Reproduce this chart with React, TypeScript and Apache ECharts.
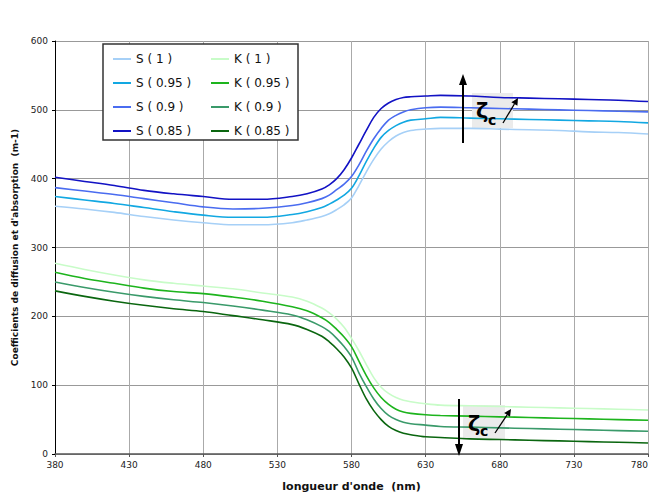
import React, { useEffect, useRef } from "react";
import * as echarts from "echarts";

const wavelengths = [380, 400, 420, 440, 460, 480, 500, 520, 540, 550, 560, 565, 570, 575, 580, 585, 590, 595, 600, 605, 610, 615, 620, 630, 640, 660, 680, 700, 720, 740, 760, 780];

const s100 = [360, 356, 351, 345, 340, 336, 333, 333, 336, 340, 345, 349, 355, 362, 372, 390, 410, 428, 443, 454, 462, 467, 470, 472, 473, 473, 472, 471, 470, 468, 467, 465];
const s095 = [374, 369, 364, 358, 352, 347, 344, 344, 348, 352, 358, 363, 369, 376, 386, 404, 425, 444, 460, 470, 477, 482, 485, 487, 489, 488, 487, 486, 485, 484, 483, 481];
const s090 = [387, 382, 377, 371, 365, 359, 356, 357, 361, 365, 371, 376, 384, 392, 403, 420, 440, 458, 473, 485, 492, 497, 500, 503, 504, 503, 502, 501, 500, 499, 498, 497];
const s085 = [402, 396, 390, 383, 378, 374, 370, 370, 374, 378, 385, 391, 400, 413, 430, 450, 470, 489, 502, 510, 515, 518, 519, 520, 521, 520, 518, 517, 516, 515, 514, 512];

const k100 = [277, 268, 260, 253, 248, 244, 240, 234, 228, 222, 212, 205, 196, 184, 168, 150, 130, 111, 97, 88, 82, 78, 76, 73, 71, 70, 69, 68, 67, 66, 65, 64];
const k095 = [264, 255, 248, 241, 236, 233, 228, 222, 214, 208, 198, 191, 181, 170, 156, 135, 114, 96, 82, 72, 65, 61, 59, 57, 56, 55, 54, 53, 52, 51, 50, 49];
const k090 = [250, 242, 235, 229, 224, 220, 215, 209, 202, 195, 185, 178, 168, 156, 141, 118, 98, 80, 66, 56, 50, 46, 44, 42, 40, 39, 38, 37, 36, 35, 34, 33];
const k085 = [237, 229, 222, 216, 211, 207, 201, 195, 188, 181, 171, 163, 153, 141, 125, 102, 80, 63, 50, 40, 34, 30, 28, 25, 24, 22, 21, 20, 19, 18, 17, 16];

const sNames = ["S ( 1 )", "S ( 0.95 )", "S ( 0.9 )", "S ( 0.85 )"];
const kNames = ["K ( 1 )", "K ( 0.95 )", "K ( 0.9 )", "K ( 0.85 )"];
const sData = [s100, s095, s090, s085];
const kData = [k100, k095, k090, k085];
const sColors = ["#a6d0f7", "#12a8e2", "#4a6cf0", "#1212c4"];
const kColors = ["#c8fcc8", "#1db41d", "#3a9a6a", "#0a660f"];

const xTitle = "longueur d'onde  (nm)";
const yTitle = "Coefficients de diffusion et d'absorption  (m-1)";

export default function App() {
  const ref = useRef<HTMLDivElement>(null);
  useEffect(() => {
    if (!ref.current) return;
    const chart = echarts.init(ref.current, null, { renderer: "svg" });
    const mk = (name: string, vals: number[], color: string) => ({
      name,
      type: "line",
      data: wavelengths.map((w, i) => [w, vals[i]]),
      showSymbol: false,
      smooth: 0.35,
      lineStyle: { color, width: 1.6 },
      itemStyle: { color },
      z: 2,
    });
    const series = [
      ...sNames.map((n, i) => mk(n, sData[i], sColors[i])),
      ...kNames.map((n, i) => mk(n, kData[i], kColors[i])),
    ];
    const legendCommon = {
      orient: "vertical",
      top: 52,
      padding: 0,
      icon: "rect",
      itemWidth: 18,
      itemHeight: 2,
      itemGap: 10,
      textStyle: { fontFamily: "DejaVu Sans", fontSize: 12, color: "#111", lineHeight: 14 },
      z: 6,
    };
    const font = "DejaVu Sans";
    chart.setOption({
      animation: false,
      backgroundColor: "#fff",
      textStyle: { fontFamily: font },
      grid: { left: 55, right: 7, top: 41, bottom: 49, containLabel: false, outerBoundsMode: "none" },
      legend: [
        { ...legendCommon, left: 113, data: sNames },
        { ...legendCommon, left: 211, data: kNames },
      ],
      xAxis: {
        type: "value",
        min: 380,
        max: 780,
        interval: 50,
        name: xTitle,
        nameLocation: "middle",
        nameGap: 27,
        nameTextStyle: { fontFamily: font, fontSize: 11, fontWeight: "bold", color: "#111" },
        axisLine: { show: true, onZero: false, lineStyle: { color: "#555", width: 1.5 } },
        axisTick: { show: true, length: 3, lineStyle: { color: "#555" } },
        axisLabel: { fontFamily: font, fontSize: 9, color: "#222", margin: 6, alignMaxLabel: "right" },
        splitLine: { show: true, lineStyle: { color: "#aaaaaa", width: 1 } },
      },
      yAxis: {
        type: "value",
        min: 0,
        max: 600,
        interval: 100,
        name: yTitle,
        nameLocation: "middle",
        nameGap: 36,
        nameTextStyle: { fontFamily: font, fontSize: 9, fontWeight: "bold", color: "#111" },
        axisLine: { show: true, lineStyle: { color: "#000", width: 1 } },
        axisTick: { show: true, length: 3, lineStyle: { color: "#000" } },
        axisLabel: { fontFamily: font, fontSize: 9, color: "#222", margin: 7 },
        splitLine: { show: true, lineStyle: { color: "#999999", width: 1 } },
      },
      graphic: [
        {
          type: "rect",
          z: 5,
          shape: { x: 103, y: 44, width: 195, height: 96 },
          style: { fill: "#fff", stroke: "#333", lineWidth: 1.5 },
        },
        { type: "rect", z: 1, shape: { x: 472, y: 93, width: 41, height: 35 }, style: { fill: "#ebebeb" } },
        { type: "rect", z: 1, shape: { x: 463, y: 405, width: 42, height: 35 }, style: { fill: "#ebebeb" } },
        { type: "line", z: 10, shape: { x1: 463, y1: 143, x2: 463, y2: 82 }, style: { stroke: "#000", lineWidth: 2 } },
        { type: "polygon", z: 10, shape: { points: [[459, 85], [467, 85], [463, 74]] }, style: { fill: "#000" } },
        { type: "line", z: 10, shape: { x1: 459, y1: 399, x2: 459, y2: 446 }, style: { stroke: "#000", lineWidth: 2 } },
        { type: "polygon", z: 10, shape: { points: [[455, 444], [463, 444], [459, 456]] }, style: { fill: "#000" } },
        { type: "line", z: 10, shape: { x1: 503, y1: 123, x2: 514.4, y2: 104 }, style: { stroke: "#000", lineWidth: 1.3 } },
        { type: "polygon", z: 10, shape: { points: [[518, 98], [517.4, 105.8], [511.4, 102.2]] }, style: { fill: "#000" } },
        { type: "line", z: 10, shape: { x1: 495, y1: 433, x2: 507.1, y2: 414.8 }, style: { stroke: "#000", lineWidth: 1.3 } },
        { type: "polygon", z: 10, shape: { points: [[511, 409], [510, 416.7], [504.2, 412.9]] }, style: { fill: "#000" } },
        { type: "text", z: 10, x: 476, y: 100, style: { text: "ζ", font: "bold 21px DejaVu Sans", fill: "#000", verticalAlign: "top" } },
        { type: "text", z: 10, x: 488, y: 113, style: { text: "c", font: "bold 14px DejaVu Sans", fill: "#000", verticalAlign: "top" } },
        { type: "text", z: 10, x: 468, y: 413, style: { text: "ζ", font: "bold 21px DejaVu Sans", fill: "#000", verticalAlign: "top" } },
        { type: "text", z: 10, x: 480, y: 424, style: { text: "c", font: "bold 14px DejaVu Sans", fill: "#000", verticalAlign: "top" } },
      ],
      series,
    });
    return () => chart.dispose();
  }, []);
  return <div ref={ref} style={{ width: 655, height: 503, position: "absolute", left: 0, top: 0 }} />;
}
